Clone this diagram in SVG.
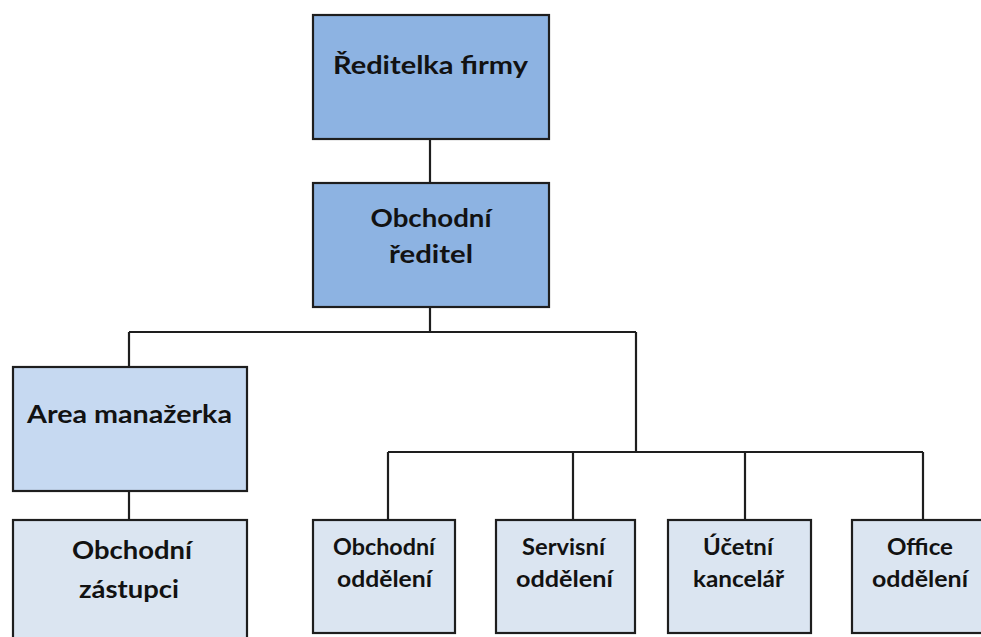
<svg xmlns="http://www.w3.org/2000/svg" width="981" height="637" viewBox="0 0 981 637">
  <style>
    .box { stroke: #1e1e1e; stroke-width: 2.2; }
    .lvl1 { fill: #8db3e2; }
    .lvl2 { fill: #c6d9f1; }
    .lvl3 { fill: #dbe5f1; }
    .lbl { font-family: Lato, "Liberation Sans", "DejaVu Sans", sans-serif; font-weight: bold; font-size: 24px; fill: #121212; text-anchor: middle; }
    .sm { font-size: 23px; }
    .wire { stroke: #1e1e1e; stroke-width: 2.2; fill: none; }
  </style>
  <rect width="981" height="637" fill="#ffffff"/>

  <!-- connectors -->
  <g id="connectors">
    <path class="wire" d="M430,139 V183"/>
    <path class="wire" d="M430,307 V332 M129,332 H636 M129,332 V367 M636,332 V452"/>
    <path class="wire" d="M129,491 V520"/>
    <path class="wire" d="M388,452 H923 M388,452 V520 M573,452 V520 M745,452 V520 M923,452 V520"/>
  </g>

  <!-- nodes -->
  <g id="reditelka">
    <rect class="box lvl1" x="313" y="15" width="236" height="124"/>
    <text class="lbl" x="430.5" y="74" textLength="195" lengthAdjust="spacingAndGlyphs">Ředitelka firmy</text>
  </g>

  <g id="obchodni-reditel">
    <rect class="box lvl1" x="313" y="183" width="236" height="124"/>
    <text class="lbl" x="431" y="227" textLength="121" lengthAdjust="spacingAndGlyphs">Obchodní</text>
    <text class="lbl" x="431" y="263" textLength="84" lengthAdjust="spacingAndGlyphs">ředitel</text>
  </g>

  <g id="area-manazerka">
    <rect class="box lvl2" x="13" y="367" width="234" height="124"/>
    <text class="lbl" x="129.5" y="423" textLength="205" lengthAdjust="spacingAndGlyphs">Area manažerka</text>
  </g>

  <g id="obchodni-zastupci">
    <rect class="box lvl3" x="13" y="520" width="234" height="130"/>
    <text class="lbl" x="132" y="559" textLength="120" lengthAdjust="spacingAndGlyphs">Obchodní</text>
    <text class="lbl" x="129" y="598" textLength="100" lengthAdjust="spacingAndGlyphs">zástupci</text>
  </g>

  <g id="obchodni-oddeleni">
    <rect class="box lvl3" x="313" y="520" width="142" height="113"/>
    <text class="lbl sm" x="384" y="555" textLength="102" lengthAdjust="spacingAndGlyphs">Obchodní</text>
    <text class="lbl sm" x="384.5" y="587" textLength="95" lengthAdjust="spacingAndGlyphs">oddělení</text>
  </g>

  <g id="servisni-oddeleni">
    <rect class="box lvl3" x="496" y="520" width="139" height="113"/>
    <text class="lbl sm" x="563.5" y="555" textLength="83" lengthAdjust="spacingAndGlyphs">Servisní</text>
    <text class="lbl sm" x="564.5" y="587" textLength="97" lengthAdjust="spacingAndGlyphs">oddělení</text>
  </g>

  <g id="ucetni-kancelar">
    <rect class="box lvl3" x="668" y="520" width="143" height="113"/>
    <text class="lbl sm" x="738" y="555" textLength="70" lengthAdjust="spacingAndGlyphs">Účetní</text>
    <text class="lbl sm" x="738.5" y="587" textLength="91" lengthAdjust="spacingAndGlyphs">kancelář</text>
  </g>

  <g id="office-oddeleni">
    <rect class="box lvl3" x="852" y="520" width="143" height="113"/>
    <text class="lbl sm" x="920" y="555" textLength="66" lengthAdjust="spacingAndGlyphs">Office</text>
    <text class="lbl sm" x="920" y="587" textLength="96" lengthAdjust="spacingAndGlyphs">oddělení</text>
  </g>
</svg>
